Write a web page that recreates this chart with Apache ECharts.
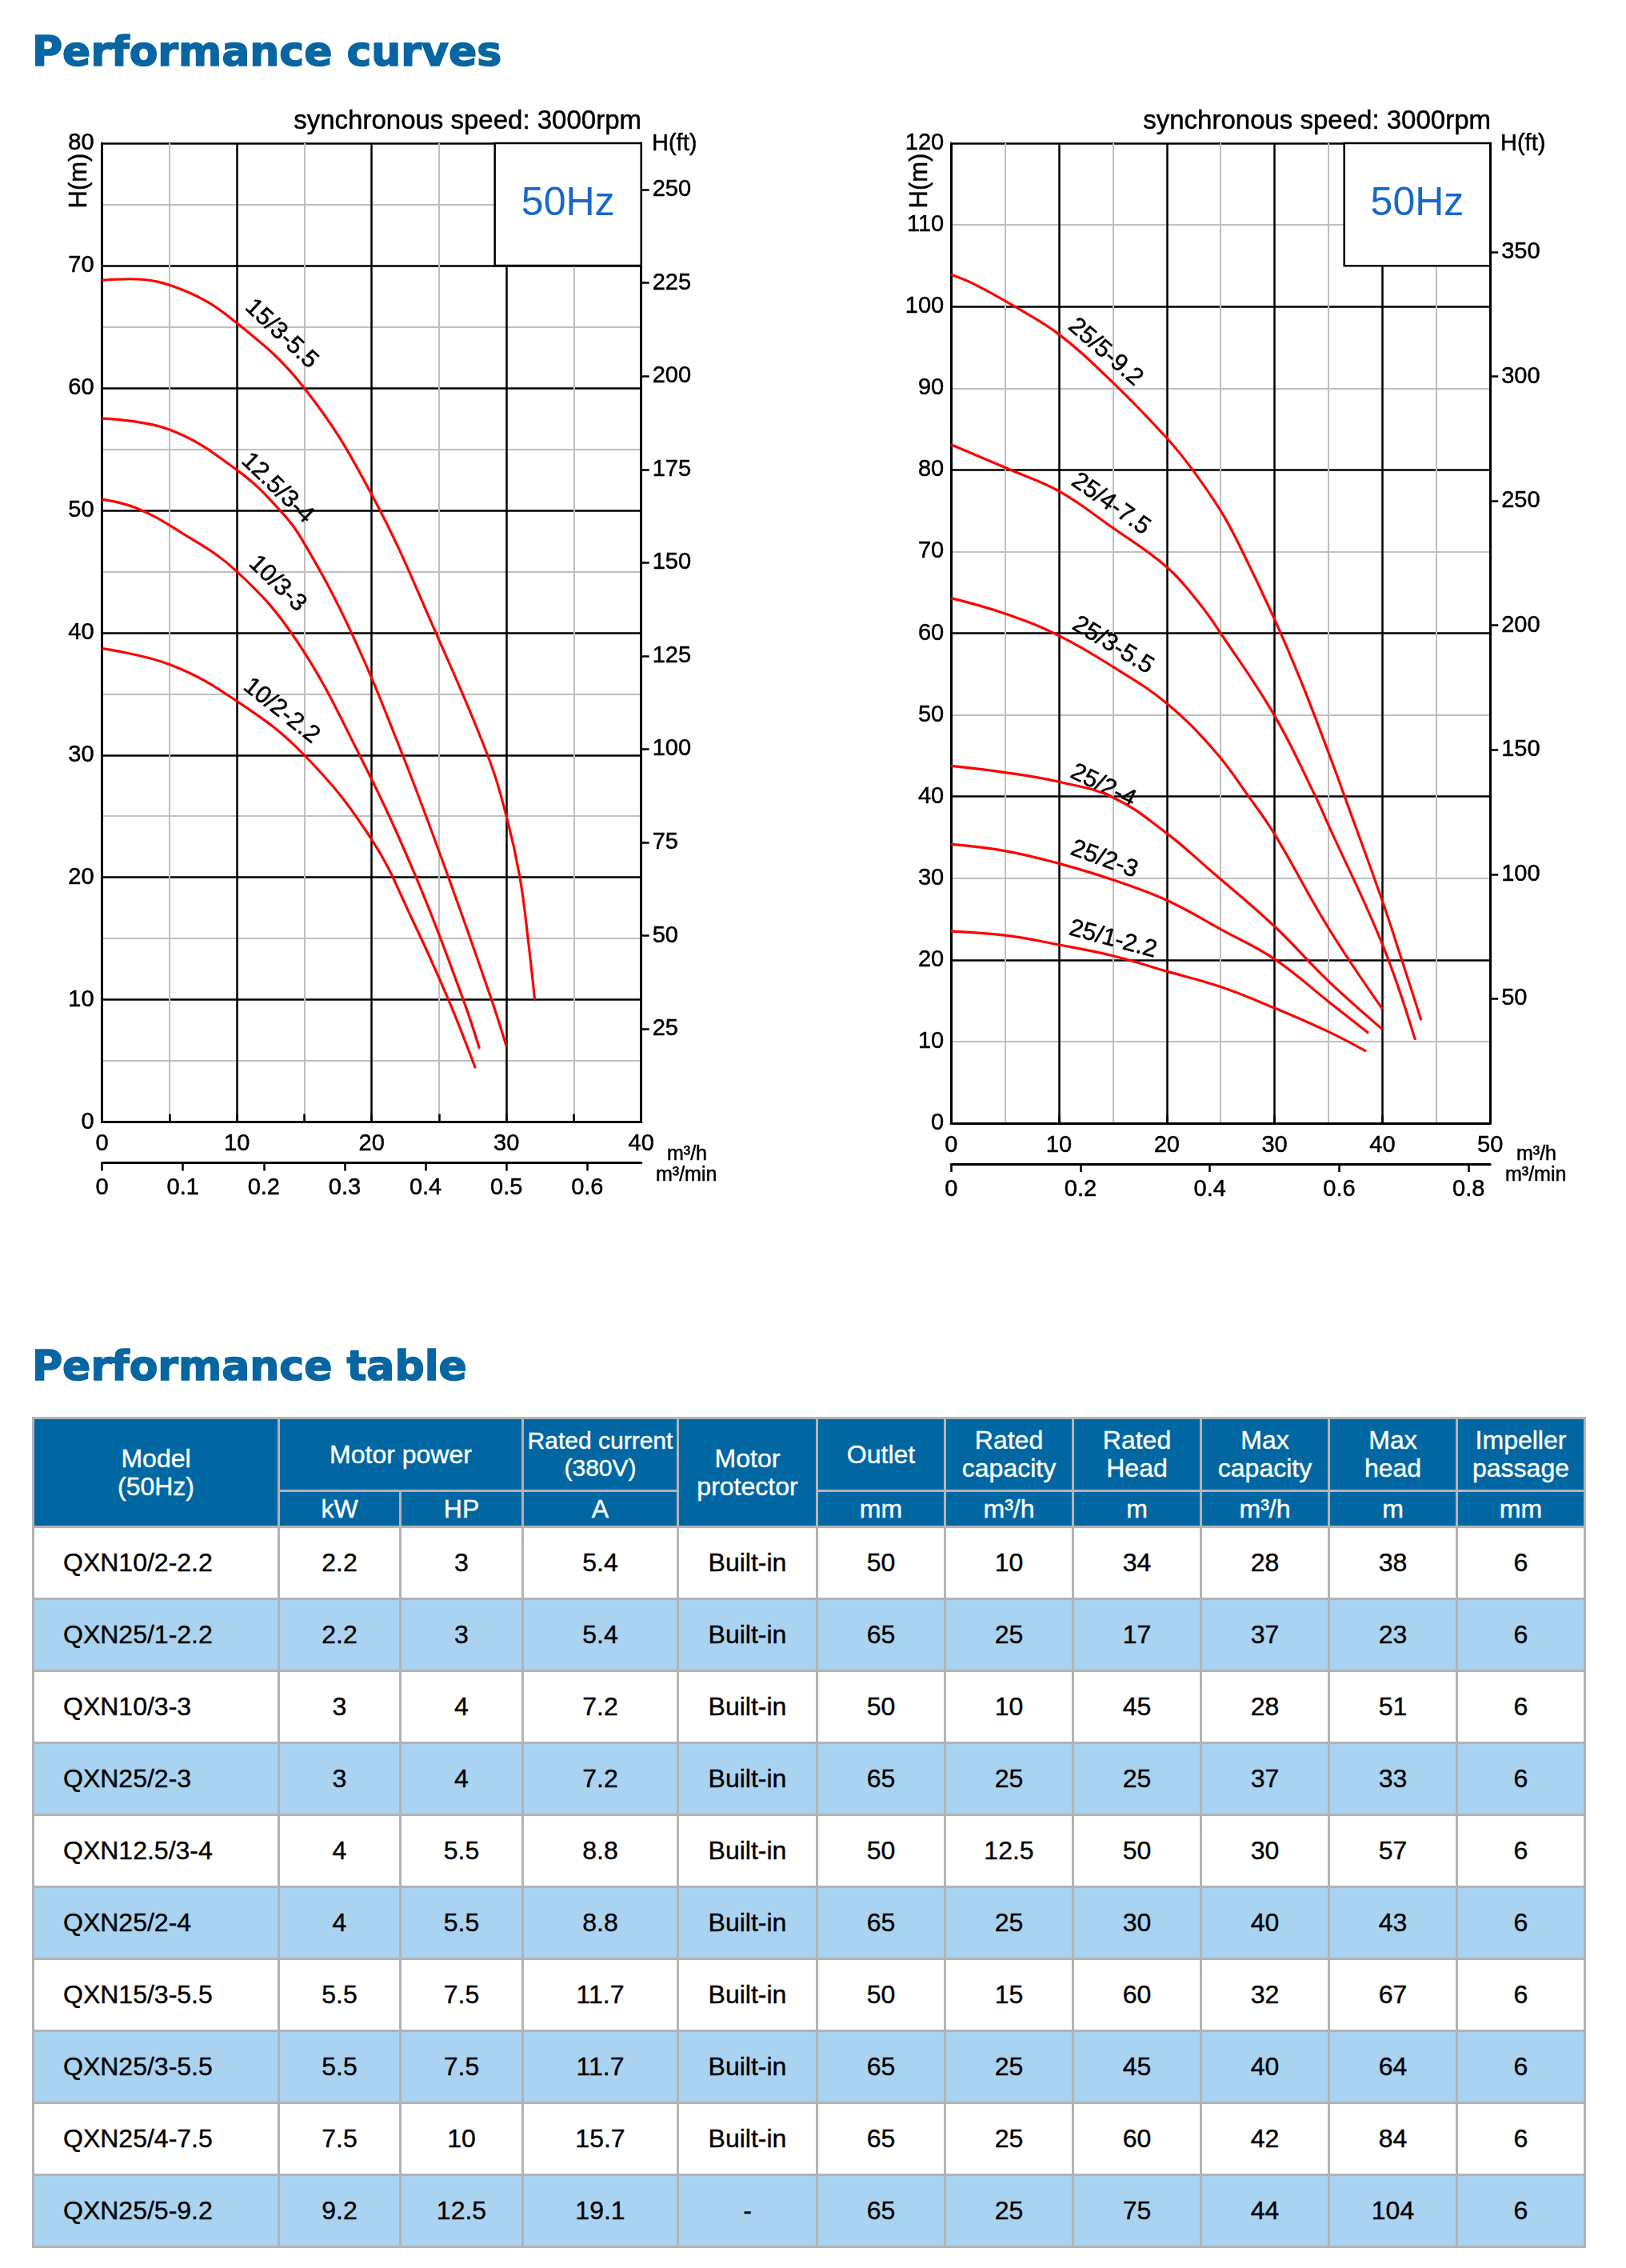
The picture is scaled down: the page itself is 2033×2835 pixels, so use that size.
<!DOCTYPE html>
<html>
<head>
<meta charset="utf-8">
<script src="https://cdn.jsdelivr.net/npm/echarts@6/dist/echarts.min.js"></script>
<style>
html,body{margin:0;padding:0;background:#fff;}
body{width:2033px;height:2835px;position:relative;overflow:hidden;font-family:'Liberation Sans',Arial,sans-serif;}
#chart{position:absolute;left:0;top:0;width:2033px;height:1600px;z-index:1;}
.title{position:absolute;left:40px;z-index:2;font-family:'DejaVu Sans',sans-serif;font-weight:bold;font-size:52px;line-height:60px;color:#0766a2;white-space:nowrap;-webkit-text-stroke:1.6px #0766a2;}
#perf{position:absolute;left:40px;top:1771px;z-index:2;border-collapse:collapse;table-layout:fixed;width:1942px;}
#perf th,#perf td{border:3px solid #b3b3b3;padding:0;text-align:center;font-family:'Liberation Sans',Arial,sans-serif;overflow:hidden;white-space:nowrap;-webkit-text-stroke:0.4px currentColor;}
#perf th{background:#0067a3;color:#fff;font-weight:normal;font-size:32px;line-height:35px;}
#perf tr.h1 th{height:88px;}
#perf tr.h2 th{height:42px;}
#perf td{height:87px;font-size:32px;color:#000;}
#perf td.model{text-align:left;padding-left:36px;}
#perf tr.alt td{background:#a9d3f1;}
</style>
</head>
<body>
<div id="chart"></div>
<div class="title" style="top:34px;">Performance curves</div>
<div class="title" style="top:1677px;">Performance table</div>
<table id="perf"></table>
<script>
// ---------------- chart data ----------------
const leftQMax = 40, leftHMax = 80;
const rightQMax = 50, rightHMax = 120;
const FT = 0.3048;

const leftFtTicks = [25, 50, 75, 100, 125, 150, 175, 200, 225, 250];
const rightFtTicks = [50, 100, 150, 200, 250, 300, 350];
const leftMinTicks = [0, 0.1, 0.2, 0.3, 0.4, 0.5, 0.6];
const rightMinTicks = [0, 0.2, 0.4, 0.6, 0.8];

// left chart curves  [Q (m3/h), H (m)]
const leftNames = ['15/3-5.5', '12.5/3-4', '10/3-3', '10/2-2.2'];
const curve15_3 = [[0,68.8],[2,68.9],[6,68.0],[10,65.3],[15,60],[20,51.3],[25,39.4],[28.6,30],[30,25],[31,20],[31.6,15],[32.1,10]];
const curve12_3 = [[0,57.5],[5,56.6],[10,53.3],[13.2,50],[15,47.3],[18.5,40],[22.3,30],[25.7,20],[28.9,10],[30,6.2]];
const curve10_3 = [[0,50.9],[2.5,50.2],[5.7,48.3],[10,45],[14.4,39.4],[19.1,30],[23.3,20],[26.8,10],[28,6]];
const curve10_2 = [[0,38.7],[5,37.4],[10,34.4],[15,30],[20,23.1],[23,16.6],[25.7,10],[27.7,4.4]];
const leftCurves = [curve15_3, curve12_3, curve10_3, curve10_2];
const leftLabelAt = [[13.3,64.4],[13.0,51.8],[13.0,44.0],[13.3,33.6]];
const leftLabelRot = [-43, -44, -44, -38.5];

// right chart curves
const rightNames = ['25/5-9.2', '25/4-7.5', '25/3-5.5', '25/2-4', '25/2-3', '25/1-2.2'];
const curve25_5 = [[0,103.9],[2.2,102.7],[5.9,100],[10,96.6],[15,90.7],[20,83.9],[22.4,80],[25,75.0],[26.8,70.6],[30,61.7],[32.4,54.3],[35,45.4],[36.5,40],[40,27.2],[41.8,20],[43.6,12.6]];
const curve25_4 = [[0,83.1],[5.5,80],[10,77.4],[15,72.9],[20,68.1],[23,63.7],[25,60],[30,49.9],[33.8,40],[35,36.5],[40,21.9],[43.05,10.2]];
const curve25_3 = [[0,64.3],[5,62.4],[10,59.7],[15,55.9],[20,51.4],[24.5,45.5],[27.6,40],[30,35.4],[35,23.9],[40,14]];
const curve25_2a = [[0,43.75],[5,42.95],[10,41.8],[15,39.9],[20,35.5],[24,31],[30,24.1],[35,17.4],[40,11.5]];
const curve25_2b = [[0,34.15],[5,33.35],[10,31.8],[15,29.8],[20,27.3],[25,23.75],[30,20.1],[35,14.9],[38.7,11.05]];
const curve25_1 = [[0,23.5],[5,23.0],[10,21.85],[15,20.5],[20,18.6],[25,16.7],[30,14.1],[35,11.2],[38.5,8.8]];
const rightCurves = [curve25_5, curve25_4, curve25_3, curve25_2a, curve25_2b, curve25_1];
const rightLabelAt = [[14.3,94.4],[14.8,75.8],[15.0,58.5],[14.1,41.3],[14.2,32.3],[15.0,22.5]];
const rightLabelRot = [-41, -35, -31, -26, -20, -15];

// 50Hz boxes [Q0, H0, Q1, H1]
const leftBox = [29.14, 70, 40, 80];
const rightBox = [36.46, 105, 50, 120];

// ---------------- table data ----------------
const models = ['QXN10/2-2.2','QXN25/1-2.2','QXN10/3-3','QXN25/2-3','QXN12.5/3-4','QXN25/2-4','QXN15/3-5.5','QXN25/3-5.5','QXN25/4-7.5','QXN25/5-9.2'];
const powerKW = ['2.2','2.2','3','3','4','4','5.5','5.5','7.5','9.2'];
const powerHP = ['3','3','4','4','5.5','5.5','7.5','7.5','10','12.5'];
const ratedCurrent = ['5.4','5.4','7.2','7.2','8.8','8.8','11.7','11.7','15.7','19.1'];
const protector = ['Built-in','Built-in','Built-in','Built-in','Built-in','Built-in','Built-in','Built-in','Built-in','-'];
const outlet = [50,65,50,65,50,65,50,65,65,65];
const ratedCapacity = ['10','25','10','25','12.5','25','15','25','25','25'];
const ratedHead = [34,17,45,25,50,30,60,45,60,75];
const maxCapacity = [28,37,28,37,30,40,32,40,42,44];
const maxHead = [38,23,51,33,57,43,67,64,84,104];
const impeller = [6,6,6,6,6,6,6,6,6,6];
const colWidths = [307,152,153,194,174,160,160,160,160,160,160];

// ---------------- build table ----------------
(function(){
  const t = document.getElementById('perf');
  let h = '<colgroup>' + colWidths.map(w => '<col style="width:' + w + 'px">').join('') + '</colgroup>';
  h += '<tr class="h1"><th rowspan="2">Model<br>(50Hz)</th><th colspan="2">Motor power</th>' +
       '<th style="font-size:30px;line-height:34px;">Rated current<br>(380V)</th><th rowspan="2">Motor<br>protector</th>' +
       '<th>Outlet</th><th>Rated<br>capacity</th><th>Rated<br>Head</th><th>Max<br>capacity</th><th>Max<br>head</th><th>Impeller<br>passage</th></tr>';
  const units = ['kW','HP','A','mm','m³/h','m','m³/h','m','mm'];
  h += '<tr class="h2">' + units.map(u => '<th>' + u + '</th>').join('') + '</tr>';
  for (let i = 0; i < models.length; i++) {
    const vals = [powerKW[i], powerHP[i], ratedCurrent[i], protector[i], outlet[i], ratedCapacity[i], ratedHead[i], maxCapacity[i], maxHead[i], impeller[i]];
    h += '<tr' + (i % 2 === 1 ? ' class="alt"' : '') + '><td class="model">' + models[i] + '</td>' +
         vals.map(v => '<td>' + v + '</td>').join('') + '</tr>';
  }
  t.innerHTML = h;
})();

// ---------------- chart ----------------
const FONT = "'Liberation Sans', Arial, sans-serif";
const RED = '#ff0000';
const BLUE50 = '#1767cc';
const GRAY = '#bfbfbf';
const THICK = { textBorderColor: '#000', textBorderWidth: 0.5 };

function curveSeries(name, data, xi, yi, labelAt, rot) {
  return {
    type: 'line', name: name, data: data, xAxisIndex: xi, yAxisIndex: yi,
    smooth: 0.4, symbol: 'none', showSymbol: false, silent: true, z: 5,
    lineStyle: { color: RED, width: 3.2 },
    markPoint: {
      silent: true, symbol: 'circle', symbolSize: 1,
      itemStyle: { color: 'rgba(0,0,0,0)' },
      label: Object.assign({ show: true, position: 'inside', formatter: '{b}', rotate: rot, fontSize: 30.5, color: '#000', fontFamily: FONT }, THICK),
      data: [{ name: name, coord: labelAt }]
    }
  };
}
function boxArea(b) {
  return {
    silent: true,
    itemStyle: { color: '#fff', borderColor: '#000', borderWidth: 2.5 },
    label: { show: true, position: 'inside', formatter: '50Hz', fontSize: 50, color: BLUE50, fontFamily: FONT },
    data: [[{ coord: [b[0], b[1]] }, { coord: [b[2], b[3]] }]]
  };
}

const blackAxisLine = { show: true, onZero: false, lineStyle: { color: '#000', width: 3 } };
const lbl = (m, extra) => Object.assign({ fontSize: 29, color: '#000', fontFamily: FONT, margin: m }, THICK, extra || {});

function mainX(gi, max) {
  return { gridIndex: gi, type: 'value', min: 0, max: max, interval: 10, position: 'bottom',
    axisLine: blackAxisLine, axisTick: { show: false }, axisLabel: lbl(13),
    splitLine: { show: true, lineStyle: { color: '#000', width: 2.5 } },
    minorTick: { show: false, splitNumber: 2 },
    minorSplitLine: { show: true, lineStyle: { color: GRAY, width: 2 } } };
}
function minX(gi, max, ticks) {
  return { gridIndex: gi, type: 'value', min: 0, max: max, position: 'bottom', offset: 51,
    axisLine: blackAxisLine,
    axisTick: { show: true, inside: false, length: 10, customValues: ticks, lineStyle: { color: '#000', width: 2.5 } },
    axisLabel: lbl(17, { customValues: ticks }), splitLine: { show: false } };
}
function tickX(gi, max, step) {
  return { gridIndex: gi, type: 'value', min: 0, max: max, interval: step, position: 'bottom', offset: 51,
    axisLine: { show: false }, axisTick: { show: true, inside: true, length: 10, lineStyle: { color: '#000', width: 2.5 } },
    axisLabel: { show: false }, splitLine: { show: false } };
}
function ftY(gi, maxM, ticks) {
  return { gridIndex: gi, type: 'value', min: 0, max: maxM / FT, position: 'right',
    axisLine: blackAxisLine,
    axisTick: { show: true, length: 10, customValues: ticks, lineStyle: { color: '#000', width: 2.5 } },
    axisLabel: lbl(14, { customValues: ticks }), splitLine: { show: false } };
}

const series = [];
leftCurves.forEach((c, i) => {
  const s = curveSeries(leftNames[i], c, 0, 0, leftLabelAt[i], leftLabelRot[i]);
  if (i === 0) s.markArea = boxArea(leftBox);
  series.push(s);
});
rightCurves.forEach((c, i) => {
  const s = curveSeries(rightNames[i], c, 3, 2, rightLabelAt[i], rightLabelRot[i]);
  if (i === 0) s.markArea = boxArea(rightBox);
  series.push(s);
});

function txt(text, x, y, size, align, extra) {
  return Object.assign({ type: 'text', x: x, y: y, silent: true, z: 10,
    style: { text: text, fontSize: size, fontFamily: FONT, fill: '#000', stroke: '#000', lineWidth: 0.5, align: align, verticalAlign: 'middle' } }, extra || {});
}

const option = {
  animation: false,
  backgroundColor: '#fff',
  grid: [
    { left: 127.6, top: 179, width: 674.1, height: 1223.6 },
    { left: 1189.2, top: 179, width: 674, height: 1225 }
  ],
  xAxis: [
    mainX(0, leftQMax), minX(0, leftQMax / 60, leftMinTicks), tickX(0, leftQMax, 5),
    mainX(1, rightQMax), minX(1, rightQMax / 60, rightMinTicks), tickX(1, rightQMax, 10)
  ],
  yAxis: [
    { gridIndex: 0, type: 'value', min: 0, max: leftHMax, interval: 10, position: 'left',
      axisLine: blackAxisLine, axisTick: { show: false }, axisLabel: lbl(10),
      splitLine: { show: true, lineStyle: { color: '#000', width: 2.5 } },
      minorTick: { show: false, splitNumber: 2 }, minorSplitLine: { show: true, lineStyle: { color: GRAY, width: 2 } } },
    ftY(0, leftHMax, leftFtTicks),
    { gridIndex: 1, type: 'value', min: 0, max: rightHMax, interval: 20, position: 'left',
      axisLine: blackAxisLine, axisTick: { show: false }, axisLabel: { show: false },
      splitLine: { show: true, lineStyle: { color: '#000', width: 2.5 } },
      minorTick: { show: false, splitNumber: 2 }, minorSplitLine: { show: true, lineStyle: { color: GRAY, width: 2 } } },
    { gridIndex: 1, type: 'value', min: 0, max: rightHMax, interval: 10, position: 'left',
      axisLine: { show: false }, axisTick: { show: false }, axisLabel: lbl(9), splitLine: { show: false } },
    ftY(1, rightHMax, rightFtTicks)
  ],
  graphic: { elements: [
    txt('synchronous speed: 3000rpm', 802, 152, 33, 'right'),
    txt('synchronous speed: 3000rpm', 1864, 152, 33, 'right'),
    txt('H(ft)', 815, 180, 29, 'left'),
    txt('H(ft)', 1876, 180, 29, 'left'),
    txt('H(m)', 99, 226, 31, 'center', { rotation: Math.PI / 2 }),
    txt('H(m)', 1150, 226, 31, 'center', { rotation: Math.PI / 2 }),
    txt('m³/h', 834, 1443, 25, 'left'),
    txt('m³/min', 820, 1469, 25, 'left'),
    txt('m³/h', 1896, 1443, 25, 'left'),
    txt('m³/min', 1882, 1469, 25, 'left')
  ] },
  series: series
};

const chart = echarts.init(document.getElementById('chart'), null, { renderer: 'canvas' });
chart.setOption(option);
</script>
</body>
</html>
